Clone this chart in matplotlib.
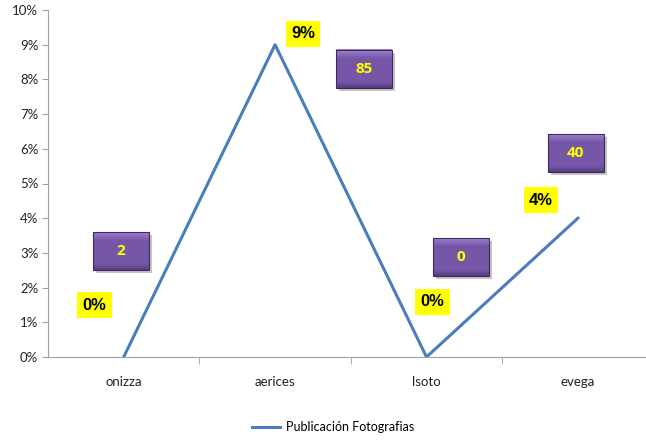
import numpy as np
import matplotlib.pyplot as plt
from matplotlib.patches import Rectangle
from matplotlib.colors import to_rgb
from matplotlib.ticker import FuncFormatter, FixedLocator

# chart data
categories = ['onizza', 'aerices', 'lsoto', 'evega']
values = [0.00, 0.09, 0.00, 0.04]
pct_labels = ['0%', '9%', '0%', '4%']
box_labels = ['2', '85', '0', '40']

# label offsets in pixels from each point (yellow % and purple count boxes)
pct_off = [(-29, 52), (28, 11), (6, 55), (-37, 18)]
box_off = [(-3, 106), (89, -24), (34, 100), (-2, 65)]

W, H = 646, 441
fig = plt.figure(figsize=(W / 100, H / 100), dpi=100)
ax = fig.add_axes([48 / W, 84 / H, 598 / W, 347 / H])

x = np.arange(len(categories))
ax.plot(x, values, color='#4a7ebb', lw=2.2, label='Publicación Fotografias', zorder=3)

ax.set_xlim(-0.5, -0.5 + 598 / 151.4)
ax.set_ylim(0, 0.10)
ax.set_yticks(np.arange(0, 0.101, 0.01))
ax.yaxis.set_major_formatter(FuncFormatter(lambda v, p: f'{v*100:.0f}%'))
ax.set_xticks(x)
ax.set_xticklabels(categories)
ax.xaxis.set_minor_locator(FixedLocator([0.5, 1.5, 2.5, 3.5]))
ax.tick_params(axis='x', which='major', length=0, pad=14, labelsize=9.5, labelcolor='#222222')
ax.tick_params(axis='x', which='minor', length=5, color='#a0a0a0')
ax.tick_params(axis='y', length=4, color='#a0a0a0', labelsize=9.5, labelcolor='#222222', pad=3)
for lab in ax.get_xticklabels() + ax.get_yticklabels():
    lab.set_family('Lato')
for s in ['top', 'right']:
    ax.spines[s].set_visible(False)
for s in ['left', 'bottom']:
    ax.spines[s].set_color('#a0a0a0')

fig.canvas.draw()
pts = ax.transData.transform(np.column_stack([x, values]))

# purple boxes with a soft vertical gradient
bw, bh = 56, 38
top_c = np.array(to_rgb('#9a7cc8'))
mid_c = np.array(to_rgb('#7656a6'))
bot_c = np.array(to_rgb('#5a3f86'))
nstrip = 19
for (px, py), (dx, dy), t in zip(pts, box_off, box_labels):
    cx, cy = px + dx, py + dy
    x0, y0 = cx - bw / 2, cy - bh / 2
    fig.patches.append(Rectangle((x0 + 3, y0 - 3), bw, bh, transform=None,
                                 facecolor='#8c8c8c', edgecolor='none', alpha=0.5, zorder=4))
    for i in range(nstrip):
        f = i / (nstrip - 1)  # 0 bottom -> 1 top
        if f > 0.8:
            c = mid_c + (top_c - mid_c) * (f - 0.8) / 0.2
        elif f < 0.15:
            c = bot_c + (mid_c - bot_c) * f / 0.15
        else:
            c = mid_c
        fig.patches.append(Rectangle((x0, y0 + i * bh / nstrip), bw, bh / nstrip + 0.5,
                                     transform=None, facecolor=c, edgecolor='none', zorder=5))
    fig.patches.append(Rectangle((x0, y0), bw, bh, transform=None,
                                 facecolor='none', edgecolor='#3d2a5a', lw=0.8, zorder=6))
    fig.text(cx / W, cy / H, t, ha='center', va='center', color='#ffff00',
             fontsize=11, fontweight='bold', family='Open Sans', zorder=7)

# yellow percent labels
for (px, py), (dx, dy), t in zip(pts, pct_off, pct_labels):
    fig.text((px + dx) / W, (py + dy) / H, t, ha='center', va='center', color='black',
             fontsize=12, fontweight='bold', family='Liberation Sans', zorder=7,
             bbox=dict(boxstyle='square,pad=0.32', facecolor='#ffff00', edgecolor='none'))

leg = fig.legend(loc='center', bbox_to_anchor=(333 / W, 1 - 427 / H), frameon=False,
                 handlelength=2.2, handletextpad=0.5, prop={'family': 'Lato', 'size': 9})

fig.savefig('out.png', dpi=100)
